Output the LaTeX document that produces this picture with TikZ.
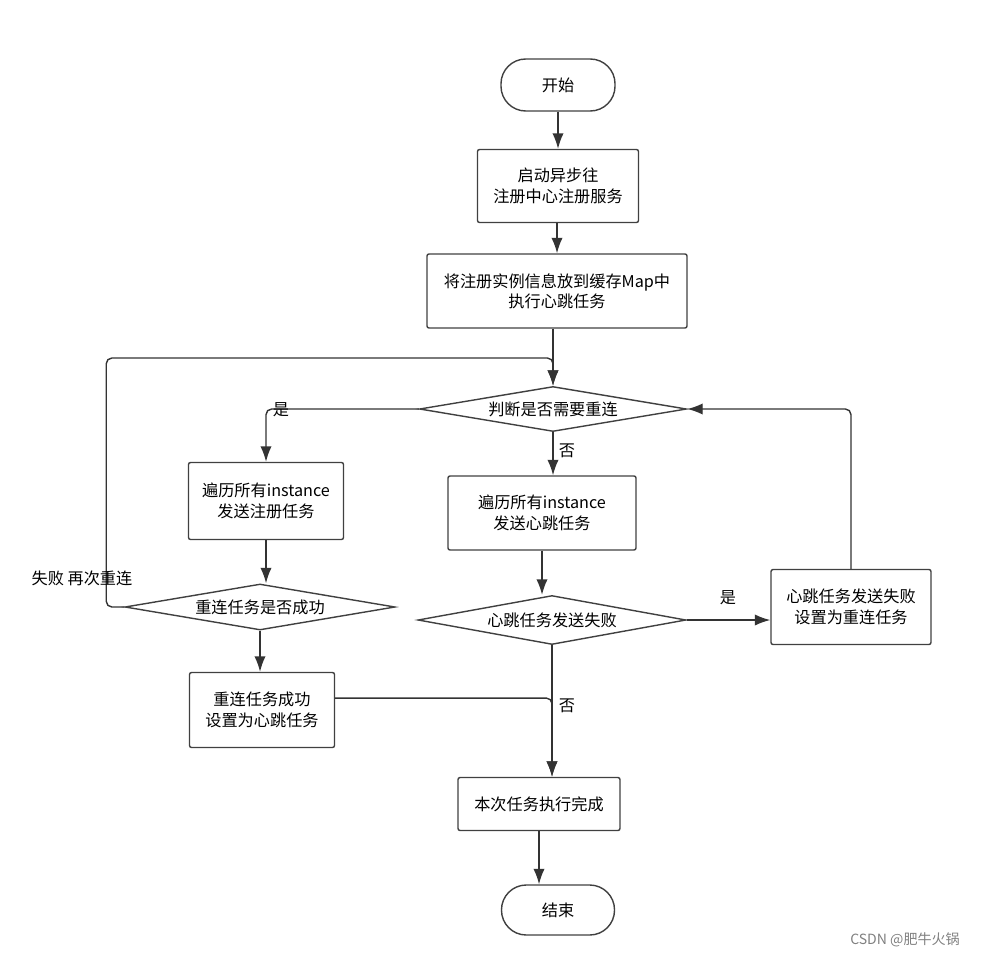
\documentclass[tikz,border=0pt]{standalone}
\usepackage{fontspec}
\setmainfont{Noto Sans CJK SC}
\usetikzlibrary{shapes.geometric,arrows.meta}

\begin{document}
\begin{tikzpicture}[x=0.025cm, y=-0.025cm,
					flow/.style = {draw=black!80, line width=1pt, rounded corners=4pt, -{Latex[length=11pt,width=8pt]}},
					stepbox/.style = {draw=black!75, line width=1pt, rounded corners=1.5pt, align=center, inner sep=2pt, font=\fontsize{11.5}{14.5}\selectfont},
					terminal/.style = {stepbox, rounded corners=0.62cm, minimum width=2.85cm, minimum height=1.3cm},
					decision/.style = {diamond, draw=black!75, line width=1pt, aspect=6, inner sep=0pt, font=\fontsize{11.5}{14.5}\selectfont},
					tag/.style = {font=\fontsize{11.5}{14.5}\selectfont, inner sep=1pt}
				]

				\useasboundingbox (0,0) rectangle (1004,959);

				% main column
				\node[terminal] (start) at (558,85) {开始};
				\node[stepbox, minimum width=4.025cm, minimum height=1.825cm] (reg) at (558,186) {启动异步往\\注册中心注册服务};
				\node[stepbox, minimum width=6.5cm, minimum height=1.85cm] (cache) at (557,291) {将注册实例信息放到缓存Map中\\执行心跳任务};
				\node[decision, minimum width=6.675cm, minimum height=1.125cm] (check) at (553,409) {判断是否需要重连};

				% reconnect branch
				\node[stepbox, minimum width=3.875cm, minimum height=1.925cm] (regall) at (266,501) {遍历所有instance\\发送注册任务};
				\node[decision, minimum width=6.75cm, minimum height=1.15cm] (regok) at (260,607) {重连任务是否成功};
				\node[stepbox, minimum width=3.625cm, minimum height=1.875cm] (regdone) at (262,710) {重连任务成功\\设置为心跳任务};

				% heartbeat branch
				\node[stepbox, minimum width=4.7cm, minimum height=1.85cm] (beatall) at (542,513) {遍历所有instance\\发送心跳任务};
				\node[decision, minimum width=6.7cm, minimum height=1.225cm] (beatfail) at (552,620) {心跳任务发送失败};
				\node[stepbox, minimum width=4cm, minimum height=1.875cm] (retry) at (851,607) {心跳任务发送失败\\设置为重连任务};

				\node[stepbox, minimum width=4.05cm, minimum height=1.325cm] (done) at (539,804) {本次任务执行完成};
				\node[terminal, minimum width=2.825cm, minimum height=1.25cm] (end) at (558,910) {结束};

				% connectors
				\draw[flow] (start) -- (reg);
				\draw[flow] (reg.south -| cache.north) -- (cache.north);
				\draw[flow] (cache.south -| check.north) -- (check.north);
				\coordinate (loop) at (553,358);
				\draw[flow] (regok.west) -- ++(-18,0) |- (loop) -- (check.north);
				\draw[flow] (check.west) -| (regall.north);
				\draw[flow] (check.south) -- (check.south |- beatall.north);
				\draw[flow] (regall.south) -- (regall.south |- regok.north);
				\draw[flow] (regok.south) -- (regok.south |- regdone.north);
				\draw[flow] (beatall.south) -- (beatall.south |- beatfail.north);
				\draw[flow] (beatfail.east) -- (beatfail.east -| retry.west);
				\draw[flow] (retry.north) |- (check.east);
				\coordinate (donein) at (beatfail.south |- done.north);
				\draw[flow] (beatfail.south) -- (donein);
				\draw[flow] ([yshift=8.5pt]regdone.east) -| (donein);
				\draw[flow] (done.south) -- (done.south |- end.north);

				% labels
				\node[tag] (yes1) at (281,410) {是};
				\node[tag] (no1) at (567,451) {否};
				\node[tag] (yes2) at (728,598) {是};
				\node[tag] (no2) at (567,706) {否};
				\node[tag] (fail) at (82,578) {失败 再次重连};
				\node[font=\fontsize{10}{12}\selectfont, text=black!50] (mark) at (905,940) {CSDN @肥牛火锅};
			\end{tikzpicture}
\end{document}
